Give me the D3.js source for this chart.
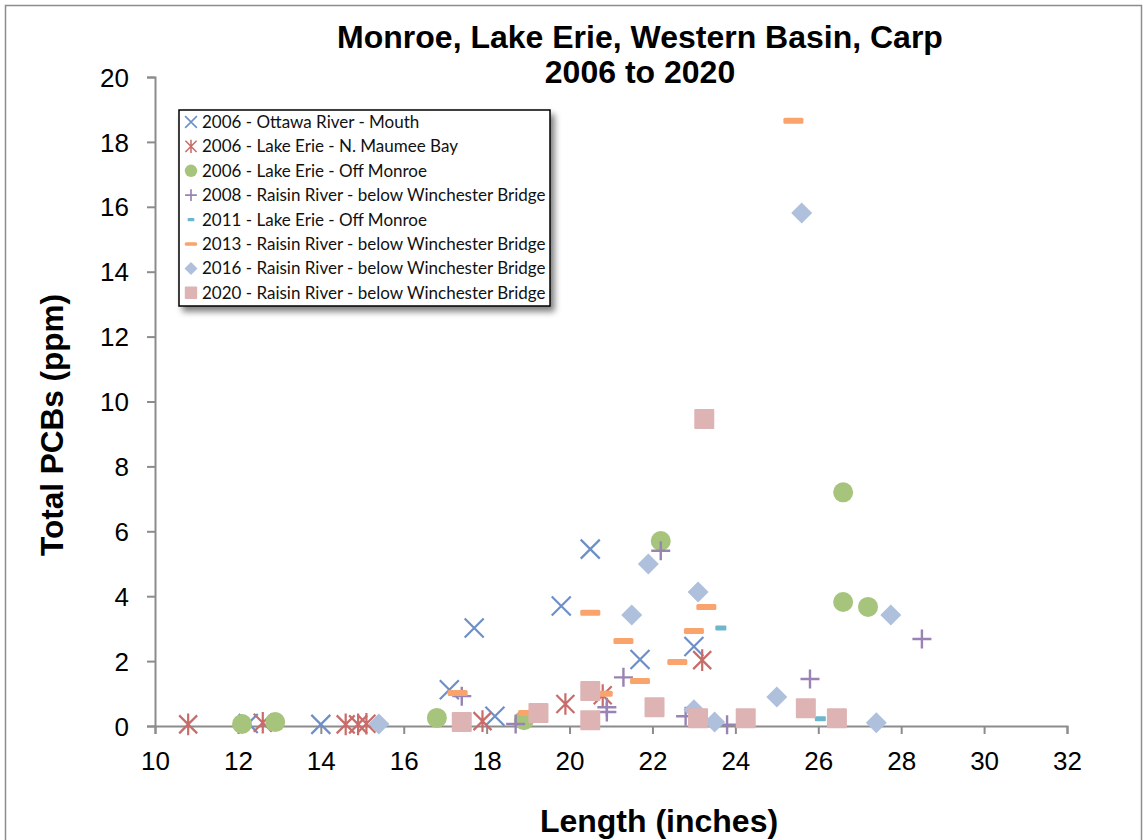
<!DOCTYPE html>
<html><head><meta charset="utf-8">
<script src="https://cdn.jsdelivr.net/npm/d3@7"></script>
<style>body{margin:0;background:#fff;}</style>
</head><body>
<svg id="chart" width="1147" height="840"></svg>
<script>
// ---- data ----
const seriesNames = [
  "2006 - Ottawa River - Mouth",
  "2006 - Lake Erie - N. Maumee Bay",
  "2006 - Lake Erie - Off Monroe",
  "2008 - Raisin River - below Winchester Bridge",
  "2011 - Lake Erie - Off Monroe",
  "2013 - Raisin River - below Winchester Bridge",
  "2016 - Raisin River - below Winchester Bridge",
  "2020 - Raisin River - below Winchester Bridge"
];
const ottawa2006_x = [12.25, 14.0, 17.1, 17.7, 18.2, 19.8, 20.5, 21.7, 23.0];
const ottawa2006_y = [0.08, 0.05, 1.12, 3.02, 0.3, 3.7, 5.45, 2.05, 2.45];
const maumee2006_x = [10.8, 12.6, 14.6, 14.9, 15.1, 17.9, 19.9, 20.8, 23.2];
const maumee2006_y = [0.05, 0.1, 0.05, 0.05, 0.07, 0.15, 0.68, 0.95, 2.03];
const monroe2006_x = [12.1, 12.9, 16.8, 18.9, 22.2, 26.6, 26.6, 27.2];
const monroe2006_y = [0.06, 0.12, 0.25, 0.18, 5.7, 7.2, 3.82, 3.67];
const raisin2008_x = [17.4, 18.7, 20.9, 20.9, 21.3, 22.2, 22.8, 23.8, 25.8, 28.5];
const raisin2008_y = [0.92, 0.06, 0.58, 0.43, 1.5, 5.4, 0.3, 0.04, 1.45, 2.68];
const monroe2011_x = [23.65, 26.05];
const monroe2011_y = [3.02, 0.22];
const raisin2013_x = [17.3, 19.0, 20.5, 20.8, 21.3, 21.7, 22.6, 23.0, 23.3, 25.4];
const raisin2013_y = [1.02, 0.4, 3.49, 0.99, 2.62, 1.39, 1.97, 2.93, 3.67, 18.65];
const raisin2016_x = [15.4, 21.5, 21.9, 23.1, 23.0, 23.5, 25.0, 25.6, 27.4, 27.75];
const raisin2016_y = [0.06, 3.42, 4.99, 4.13, 0.5, 0.12, 0.89, 15.81, 0.1, 3.42];
const raisin2020_x = [17.4, 19.25, 20.5, 20.5, 22.05, 23.25, 23.1, 24.25, 25.7, 26.45];
const raisin2020_y = [0.12, 0.4, 1.08, 0.18, 0.58, 9.46, 0.24, 0.24, 0.55, 0.24];
const xTicks = [10, 12, 14, 16, 18, 20, 22, 24, 26, 28, 30, 32];
const yTicks = [0, 2, 4, 6, 8, 10, 12, 14, 16, 18, 20];

const seriesX = [ottawa2006_x, maumee2006_x, monroe2006_x, raisin2008_x, monroe2011_x, raisin2013_x, raisin2016_x, raisin2020_x];
const seriesY = [ottawa2006_y, maumee2006_y, monroe2006_y, raisin2008_y, monroe2011_y, raisin2013_y, raisin2016_y, raisin2020_y];
const shapes = ["x", "star", "circle", "plus", "dash", "longdash", "diamond", "square"];
const colors = ["#6d8fc8", "#c86c6a", "#a7c47c", "#9883b4", "#6db6cd", "#f8a46c", "#afc0dd", "#deb3b3"];

// ---- chart ----
const svg = d3.select("#chart");
svg.append("rect").attr("x", 5.5).attr("y", 5.5).attr("width", 1136).attr("height", 850)
  .attr("fill", "#fff").attr("stroke", "#8c8c8c").attr("stroke-width", 1.5);

const x = d3.scaleLinear().domain([10, 32]).range([155, 1067]);
const y = d3.scaleLinear().domain([0, 20]).range([726, 77]);

const axisColor = "#8c8c8c";
const gx = svg.append("g").attr("transform", `translate(0,${y(0)})`)
  .call(d3.axisBottom(x).tickValues(xTicks).tickSize(8).tickPadding(18).tickFormat(d3.format("d")));
const gy = svg.append("g").attr("transform", `translate(${x(10)},0)`)
  .call(d3.axisLeft(y).tickValues(yTicks).tickSize(8).tickPadding(18).tickFormat(d3.format("d")));
[gx, gy].forEach(g => {
  g.select(".domain").attr("stroke", axisColor).attr("stroke-width", 2);
  g.selectAll(".tick line").attr("stroke", axisColor).attr("stroke-width", 2);
  g.selectAll(".tick text").attr("fill", "#000").style("font-family", "Liberation Sans, Arial, sans-serif").style("font-size", "26px");
});
gy.selectAll(".tick text").attr("dy", "0.35em");

// titles
const titleFont = "Liberation Sans, Arial, sans-serif";
svg.append("text").attr("x", 640).attr("y", 48).attr("text-anchor", "middle")
  .style("font-family", titleFont).style("font-weight", "bold").style("font-size", "32px")
  .text("Monroe, Lake Erie, Western Basin, Carp");
svg.append("text").attr("x", 640).attr("y", 83).attr("text-anchor", "middle")
  .style("font-family", titleFont).style("font-weight", "bold").style("font-size", "32px")
  .text("2006 to 2020");
svg.append("text").attr("x", 659).attr("y", 832).attr("text-anchor", "middle")
  .style("font-family", titleFont).style("font-weight", "bold").style("font-size", "32px")
  .text("Length (inches)");
svg.append("text").attr("transform", "translate(63,425) rotate(-90)").attr("text-anchor", "middle")
  .style("font-family", titleFont).style("font-weight", "bold").style("font-size", "31.5px")
  .text("Total PCBs (ppm)");

// marker drawing
function drawMarker(g, shape, color, s) {
  if (shape === "x") {
    const h = 9.5 * s;
    g.append("path").attr("d", `M${-h},${-h}L${h},${h}M${-h},${h}L${h},${-h}`)
      .attr("stroke", color).attr("stroke-width", 2.2 * Math.max(s, 0.7)).attr("fill", "none");
  } else if (shape === "star") {
    const h = 9 * s;
    g.append("path").attr("d", `M${-h},${-h}L${h},${h}M${-h},${h}L${h},${-h}M0,${-h * 1.2}L0,${h * 1.2}`)
      .attr("stroke", color).attr("stroke-width", 2.2 * Math.max(s, 0.7)).attr("fill", "none");
  } else if (shape === "circle") {
    g.append("circle").attr("r", 10 * s).attr("fill", color);
  } else if (shape === "plus") {
    const h = 9.5 * s;
    g.append("path").attr("d", `M${-h},0L${h},0M0,${-h}L0,${h}`)
      .attr("stroke", color).attr("stroke-width", 2.4 * Math.max(s, 0.7)).attr("fill", "none");
  } else if (shape === "dash") {
    g.append("rect").attr("x", -5.5 * s).attr("y", -2.5 * s).attr("width", 11 * s).attr("height", 5 * s)
      .attr("rx", 1).attr("fill", color);
  } else if (shape === "longdash") {
    g.append("rect").attr("x", -10 * s).attr("y", -3 * s).attr("width", 20 * s).attr("height", 6 * s)
      .attr("rx", 1.5).attr("fill", color);
  } else if (shape === "diamond") {
    const h = 10.5 * s;
    g.append("path").attr("d", `M0,${-h}L${h},0L0,${h}L${-h},0Z`).attr("fill", color);
  } else if (shape === "square") {
    const h = 10 * s;
    g.append("rect").attr("x", -h).attr("y", -h).attr("width", 2 * h).attr("height", 2 * h)
      .attr("rx", 1).attr("fill", color);
  }
}

const plot = svg.append("g");
seriesX.forEach((xs, i) => {
  const pts = xs.map((xv, j) => [xv, seriesY[i][j]]);
  const sg = plot.append("g");
  pts.forEach(p => {
    const m = sg.append("g").attr("transform", `translate(${x(p[0])},${y(p[1])})`);
    drawMarker(m, shapes[i], colors[i], 1);
  });
});

// legend
const defs = svg.append("defs");
const f = defs.append("filter").attr("id", "shadow").attr("x", "-10%").attr("y", "-10%").attr("width", "130%").attr("height", "130%");
f.append("feGaussianBlur").attr("in", "SourceAlpha").attr("stdDeviation", 3);
f.append("feOffset").attr("dx", 4).attr("dy", 5).attr("result", "ob");
f.append("feComponentTransfer").append("feFuncA").attr("type", "linear").attr("slope", 0.5);
const fm = f.append("feMerge");
fm.append("feMergeNode");
fm.append("feMergeNode").attr("in", "SourceGraphic");

const lg = svg.append("g").attr("transform", "translate(179,110)");
lg.append("rect").attr("width", 371).attr("height", 196).attr("fill", "#fff")
  .attr("stroke", "#000").attr("stroke-width", 1.5).attr("filter", "url(#shadow)");
seriesNames.forEach((name, i) => {
  const yy = 12 + i * 24.4;
  const m = lg.append("g").attr("transform", `translate(12,${yy})`);
  drawMarker(m, shapes[i], colors[i], 0.62);
  lg.append("text").attr("x", 23).attr("y", yy).attr("dy", "0.35em")
    .style("font-family", "Lato, sans-serif").style("font-size", "17px").attr("fill", "#111")
    .text(name);
});
</script>
</body></html>
